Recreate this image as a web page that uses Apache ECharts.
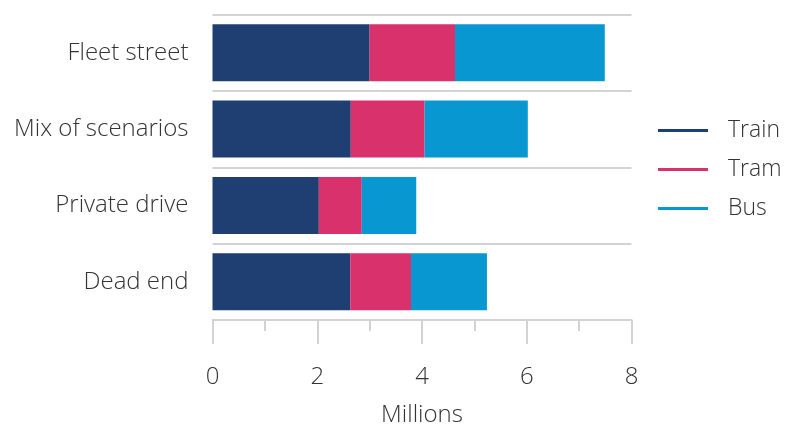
<!DOCTYPE html>
<html>
<head>
<meta charset="utf-8">
<script src="https://cdn.jsdelivr.net/npm/echarts@6/dist/echarts.min.js"></script>
<style>
html,body{margin:0;padding:0;background:#fff;}
#chart{width:785px;height:428px;}
</style>
</head>
<body>
<div id="chart"></div>
<script>
const categories = ['Fleet street', 'Mix of scenarios', 'Private drive', 'Dead end'];
const train = [3.0, 2.64, 2.03, 2.63];
const tram = [1.63, 1.41, 0.82, 1.16];
const bus = [2.86, 1.97, 1.04, 1.45];
const xTicks = [0, 2, 4, 6, 8];

const FONT = 'Open Sans';
const FW = 300;
const FS = 24;
const TXT = '#333333';
const GRID = '#d3d3d3';

const chart = echarts.init(document.getElementById('chart'), null, {renderer: 'canvas'});
const mk = (name, data, color) => ({
  name, type: 'bar', stack: 'total', data,
  barWidth: 57,
  itemStyle: {color},
  emphasis: {disabled: true}
});
const ts = {fontFamily: FONT, fontWeight: FW, fontSize: FS, color: TXT};
chart.setOption({
  animation: false,
  textStyle: {fontFamily: FONT},
  grid: {left: 212.5, right: 153.5, top: 14.5, bottom: 108, containLabel: false, outerBoundsMode: 'none'},
  legend: {
    orient: 'vertical', left: 658, top: 119, padding: 0,
    icon: 'rect', itemWidth: 50, itemHeight: 3, itemGap: 16,
    textStyle: Object.assign({}, ts, {fontSize: 23, padding: [0, 0, 0, 15]}),
    data: ['Train', 'Tram', 'Bus']
  },
  xAxis: {
    type: 'value', min: xTicks[0], max: xTicks[xTicks.length - 1], interval: 2,
    name: 'Millions', nameLocation: 'middle', nameGap: 83,
    nameTextStyle: ts,
    axisLine: {show: true, lineStyle: {color: GRID, width: 2}},
    axisTick: {show: true, length: 24, lineStyle: {color: GRID, width: 2}},
    minorTick: {show: true, splitNumber: 2, length: 11, lineStyle: {color: GRID, width: 2}},
    splitLine: {show: false},
    axisLabel: Object.assign({}, ts, {margin: 45})
  },
  yAxis: {
    type: 'category', data: categories, inverse: true,
    axisLine: {show: false}, axisTick: {show: false},
    splitLine: {show: true, lineStyle: {color: GRID, width: 2}},
    axisLabel: Object.assign({}, ts, {margin: 24, padding: [3, 0, 0, 0]})
  },
  series: [
    mk('Train', train, '#1f3f72'),
    mk('Tram', tram, '#d9316c'),
    mk('Bus', bus, '#0897d0')
  ]
});
</script>
</body>
</html>
